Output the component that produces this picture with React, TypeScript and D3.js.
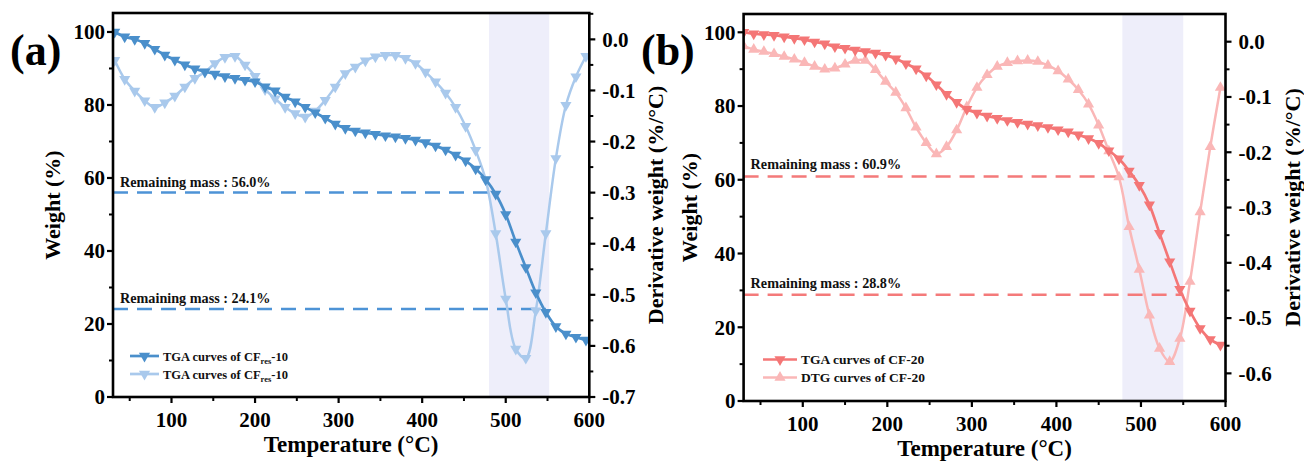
import React from 'react';
import * as d3 from 'd3';

// ---------- data ----------
const tempsA = [32, 44, 56, 68, 80, 92, 104, 116, 128, 140, 152, 164, 176, 188, 200, 212, 224, 236, 248, 260, 272, 284, 296, 308, 320, 332, 344, 356, 368, 380, 392, 404, 416, 428, 440, 452, 464, 476, 488, 500, 512, 524, 536, 548, 560, 572, 584, 596];
const tgaA = [100, 98.7, 98.0, 96.9, 95.3, 93.7, 92.3, 91.0, 89.9, 89.1, 88.5, 87.8, 87.3, 86.8, 86.4, 85.0, 83.9, 82.2, 80.9, 79.4, 77.9, 76.4, 74.8, 73.6, 72.9, 72.4, 72.0, 71.6, 71.3, 70.9, 70.4, 69.7, 68.8, 67.7, 66.3, 64.7, 62.5, 59.6, 55.6, 50.0, 42.5, 35.5, 28.6, 23.2, 19.3, 17.3, 16.4, 15.6];
const dtgA = [-0.041, -0.078, -0.101, -0.120, -0.133, -0.124, -0.111, -0.093, -0.076, -0.064, -0.047, -0.035, -0.033, -0.050, -0.072, -0.098, -0.116, -0.133, -0.145, -0.152, -0.140, -0.119, -0.093, -0.067, -0.054, -0.042, -0.034, -0.031, -0.031, -0.037, -0.047, -0.064, -0.083, -0.105, -0.133, -0.170, -0.217, -0.275, -0.380, -0.508, -0.606, -0.624, -0.531, -0.380, -0.233, -0.129, -0.073, -0.033];

const tempsB = [30, 42, 54, 66, 78, 90, 102, 114, 126, 138, 150, 162, 174, 186, 198, 210, 222, 234, 246, 258, 270, 282, 294, 306, 318, 330, 342, 354, 366, 378, 390, 402, 414, 426, 438, 450, 462, 474, 486, 498, 510, 522, 534, 546, 558, 570, 582, 594];
const tgaB = [100, 99.6, 99.4, 99.2, 98.8, 98.4, 98.0, 97.4, 96.9, 96.1, 95.7, 95.2, 94.8, 94.4, 93.8, 92.8, 91.5, 90.1, 88.2, 85.8, 83.2, 81.0, 79.1, 78.1, 77.3, 76.7, 76.1, 75.6, 75.1, 74.7, 74.2, 73.6, 73.0, 72.2, 71.2, 69.9, 67.9, 65.7, 62.4, 58.5, 53.2, 45.5, 37.8, 30.3, 24.4, 19.7, 16.7, 15.2];
const dtgB = [-0.008, -0.014, -0.018, -0.022, -0.027, -0.032, -0.038, -0.045, -0.050, -0.048, -0.041, -0.034, -0.034, -0.051, -0.072, -0.092, -0.120, -0.155, -0.183, -0.203, -0.190, -0.160, -0.118, -0.083, -0.060, -0.045, -0.038, -0.035, -0.034, -0.036, -0.043, -0.053, -0.068, -0.087, -0.113, -0.151, -0.198, -0.245, -0.335, -0.412, -0.495, -0.555, -0.579, -0.537, -0.434, -0.308, -0.190, -0.083];

const remainA = [56.0, 24.1];
const remainEndA = [488, 548];
const remainB = [60.9, 28.8];
const remainEndB = [493, 550];
const shadeA = [480, 552];
const shadeB = [478, 550];

const xTicks = [100, 200, 300, 400, 500, 600];
const xMinor = [50, 150, 250, 350, 450, 550];
const wTicks = [0, 20, 40, 60, 80, 100];
const wMinor = [10, 30, 50, 70, 90];
const dTicksA = [0.0, -0.1, -0.2, -0.3, -0.4, -0.5, -0.6, -0.7];
const dTicksB = [0.0, -0.1, -0.2, -0.3, -0.4, -0.5, -0.6];
const dMinorA = [0.05, -0.05, -0.15, -0.25, -0.35, -0.45, -0.55, -0.65];
const dMinorB = [-0.05, -0.15, -0.25, -0.35, -0.45, -0.55];

const legendA = ['TGA curves of CF', 'TGA curves of CF'];
const legendB = ['TGA curves of CF-20', 'DTG curves of CF-20'];

const FONT = '"Liberation Serif", "Times New Roman", serif';

type Cfg = {
  id: string;
  label: string;
  x0: number; x1: number; yT: number; yB: number;
  wMax: number; dMin: number; dMax: number;
  temps: number[]; tga: number[]; dtg: number[];
  remain: number[]; remainEnd: number[]; shade: number[];
  dTicks: number[]; dMinor: number[];
  dark: string; light: string; dash: string;
  dtgUp: boolean;
  legend: string[]; legendSub: boolean; legendSize: number;
  legX: number; legY: number; legLen: number;
  labelX: number; wTitleX: number; dTitleX: number;
  remainLabelDy: number;
};

function tri(size: number) {
  return d3.symbol().type(d3.symbolTriangle).size(size)() as string;
}

function Panel({ c }: { c: Cfg }) {
  const x = d3.scaleLinear().domain([30, 600]).range([c.x0, c.x1]);
  const yW = d3.scaleLinear().domain([0, c.wMax]).range([c.yB, c.yT]);
  const yD = d3.scaleLinear().domain([c.dMin, c.dMax]).range([c.yB, c.yT]);
  const curve = d3.curveCatmullRom.alpha(0.5);
  const lineW = d3.line<number>().x((_, i) => x(c.temps[i])).y((d) => yW(d)).curve(curve);
  const lineD = d3.line<number>().x((_, i) => x(c.temps[i])).y((d) => yD(d)).curve(curve);
  const triPath = tri(54);
  const tickMaj = 6;
  const tickMin = 4;
  const cy = (c.yT + c.yB) / 2;
  const cx = (c.x0 + c.x1) / 2;
  return (
    <g>
      <defs>
        <clipPath id={`clip-${c.id}`}>
          <rect x={c.x0} y={c.yT} width={c.x1 - c.x0} height={c.yB - c.yT} />
        </clipPath>
      </defs>
      {/* shaded region */}
      <rect x={x(c.shade[0])} y={c.yT} width={x(c.shade[1]) - x(c.shade[0])} height={c.yB - c.yT} fill="#eeeefa" />
      {/* remaining mass dashed lines */}
      {c.remain.map((r, i) => (
        <g key={`rm${i}`}>
          <line x1={c.x0} x2={x(c.remainEnd[i])} y1={yW(r)} y2={yW(r)} stroke={c.dash} strokeWidth={2.5} strokeDasharray="15,9" />
          <text x={c.x0 + 7} y={yW(r) - c.remainLabelDy} fontFamily={FONT} fontWeight="bold" fontSize={14.2} fill="#111">
            {`Remaining mass : ${r.toFixed(1)}%`}
          </text>
        </g>
      ))}
      <g clipPath={`url(#clip-${c.id})`}>
        {/* DTG (light) */}
        <path d={lineD(c.dtg) || ''} fill="none" stroke={c.light} strokeWidth={2.5} />
        {c.dtg.map((d, i) => (
          <path key={`dm${i}`} d={triPath} transform={`translate(${x(c.temps[i])},${yD(d)}) rotate(${c.dtgUp ? 0 : 180})`} fill={c.light} />
        ))}
        {/* TGA (dark) */}
        <path d={lineW(c.tga) || ''} fill="none" stroke={c.dark} strokeWidth={2.7} />
        {c.tga.map((d, i) => (
          <path key={`wm${i}`} d={triPath} transform={`translate(${x(c.temps[i])},${yW(d)}) rotate(180)`} fill={c.dark} />
        ))}
      </g>
      {/* frame */}
      <rect x={c.x0} y={c.yT} width={c.x1 - c.x0} height={c.yB - c.yT} fill="none" stroke="#000" strokeWidth={2.6} />
      {/* x ticks */}
      {xTicks.map((t) => (
        <g key={`xt${t}`}>
          <line x1={x(t)} x2={x(t)} y1={c.yB} y2={c.yB + tickMaj} stroke="#000" strokeWidth={2.2} />
          <text x={x(t)} y={c.yB + 30} textAnchor="middle" fontFamily={FONT} fontWeight="bold" fontSize={21}>{t}</text>
        </g>
      ))}
      {xMinor.map((t) => (
        <line key={`xm${t}`} x1={x(t)} x2={x(t)} y1={c.yB} y2={c.yB + tickMin} stroke="#000" strokeWidth={2} />
      ))}
      {/* left ticks */}
      {wTicks.map((t) => (
        <g key={`wt${t}`}>
          <line x1={c.x0 - tickMaj} x2={c.x0} y1={yW(t)} y2={yW(t)} stroke="#000" strokeWidth={2.2} />
          <text x={c.x0 - 8} y={yW(t)} dy="0.35em" textAnchor="end" fontFamily={FONT} fontWeight="bold" fontSize={21}>{t}</text>
        </g>
      ))}
      {wMinor.map((t) => (
        <line key={`wm${t}`} x1={c.x0 - tickMin} x2={c.x0} y1={yW(t)} y2={yW(t)} stroke="#000" strokeWidth={2} />
      ))}
      {/* right ticks */}
      {c.dTicks.map((t) => (
        <g key={`dt${t}`}>
          <line x1={c.x1} x2={c.x1 + tickMaj} y1={yD(t)} y2={yD(t)} stroke="#000" strokeWidth={2.2} />
          <text x={c.x1 + 13} y={yD(t)} dy="0.35em" textAnchor="start" fontFamily={FONT} fontWeight="bold" fontSize={21}>{t === 0 ? '0.0' : t.toFixed(1)}</text>
        </g>
      ))}
      {c.dMinor.map((t) => (
        <line key={`dmn${t}`} x1={c.x1} x2={c.x1 + tickMin} y1={yD(t)} y2={yD(t)} stroke="#000" strokeWidth={2} />
      ))}
      {/* axis titles */}
      <text x={cx} y={c.yB + 55} textAnchor="middle" fontFamily={FONT} fontWeight="bold" fontSize={23}>Temperature (°C)</text>
      <text transform={`translate(${c.wTitleX},${cy}) rotate(-90)`} textAnchor="middle" fontFamily={FONT} fontWeight="bold" fontSize={22}>Weight (%)</text>
      <text transform={`translate(${c.dTitleX},${cy}) rotate(-90)`} textAnchor="middle" fontFamily={FONT} fontWeight="bold" fontSize={22}>Derivative weight (%/°C)</text>
      {/* panel label */}
      <text x={c.labelX} y={65} fontFamily={FONT} fontWeight="bold" fontSize={44}>{c.label}</text>
      {/* legend */}
      {c.legend.map((s, i) => {
        const ly = c.legY + i * 18;
        const col = i === 0 ? c.dark : c.light;
        const up = i === 1 && c.dtgUp;
        return (
          <g key={`lg${i}`}>
            <line x1={c.legX} x2={c.legX + c.legLen} y1={ly} y2={ly} stroke={col} strokeWidth={2.7} />
            <path d={triPath} transform={`translate(${c.legX + c.legLen / 2},${ly}) rotate(${up ? 0 : 180})`} fill={col} />
            <text x={c.legX + c.legLen + 4} y={ly + 4.5} fontFamily={FONT} fontWeight="bold" fontSize={c.legendSize} fill="#111">
              {s}
              {c.legendSub ? (
                <>
                  <tspan fontSize={8.5} dy={3}>res</tspan>
                  <tspan dy={-3}>-10</tspan>
                </>
              ) : null}
            </text>
          </g>
        );
      })}
    </g>
  );
}

const cfgA: Cfg = {
  id: 'a', label: '(a)',
  x0: 113, x1: 589.3, yT: 13, yB: 397,
  wMax: 105.2, dMin: -0.7, dMax: 0.0516,
  temps: tempsA, tga: tgaA, dtg: dtgA,
  remain: remainA, remainEnd: remainEndA, shade: shadeA,
  dTicks: dTicksA, dMinor: dMinorA,
  dark: '#4a8fcb', light: '#a9c9ec', dash: '#4d93d6',
  dtgUp: false,
  legend: legendA, legendSub: true, legendSize: 12.5,
  legX: 130, legY: 356, legLen: 29,
  labelX: 10, wTitleX: 60, dTitleX: 663,
  remainLabelDy: 6,
};

const cfgB: Cfg = {
  id: 'b', label: '(b)',
  x0: 743.6, x1: 1225.5, yT: 14, yB: 401,
  wMax: 104.96, dMin: -0.65, dMax: 0.0501,
  temps: tempsB, tga: tgaB, dtg: dtgB,
  remain: remainB, remainEnd: remainEndB, shade: shadeB,
  dTicks: dTicksB, dMinor: dMinorB,
  dark: '#f47676', light: '#fab7b7', dash: '#f47a7a',
  dtgUp: true,
  legend: legendB, legendSub: false, legendSize: 13.5,
  legX: 763, legY: 359.5, legLen: 34,
  labelX: 641, wTitleX: 697, dTitleX: 1300,
  remainLabelDy: 7,
};

export default function App() {
  return (
    <svg width={1304} height={461} style={{ position: 'absolute', left: 0, top: 0, background: '#fff' }}>
      <rect x={0} y={0} width={1304} height={461} fill="#fff" />
      <Panel c={cfgA} />
      <Panel c={cfgB} />
    </svg>
  );
}
